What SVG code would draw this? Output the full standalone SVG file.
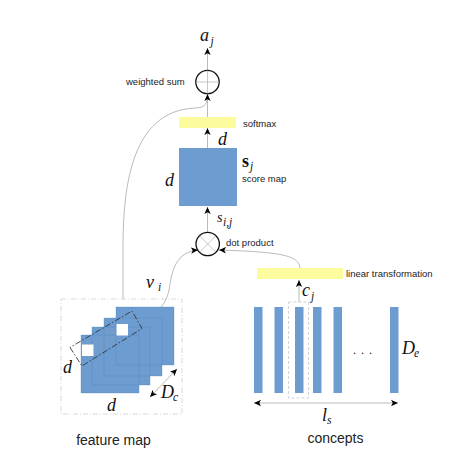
<svg xmlns="http://www.w3.org/2000/svg" width="476" height="476" viewBox="0 0 476 476">
<style>
.blue{fill:#6d9cd0;}
.yel{fill:#fcfc9e;}
.con{fill:none;stroke:#a8a8a8;stroke-width:0.8;}
.lbl{font-family:"Liberation Sans",Arial,sans-serif;font-size:9.5px;fill:#222;}
.big{font-family:"Liberation Sans",Arial,sans-serif;font-size:14px;fill:#222;}
.m{font-family:"Liberation Serif","DejaVu Serif",serif;font-style:italic;font-size:18px;fill:#111;}
.sub{font-family:"Liberation Serif","DejaVu Serif",serif;font-style:italic;font-size:11.5px;fill:#111;}
.op{fill:#fff;stroke:#111;stroke-width:1.3;}
.opl{stroke:#b0b0b0;stroke-width:0.7;}
.lay{fill:#6d9cd0;}
.layo{fill:none;stroke:#4f7fb5;stroke-width:0.5;stroke-opacity:0.6;}
</style>
<defs>
<marker id="arr" viewBox="0 0 10 10" refX="10" refY="5" markerWidth="7" markerHeight="7" orient="auto-start-reverse" markerUnits="userSpaceOnUse">
<path d="M0,0.5 L10,5 L0,9.5 L2.5,5 z" fill="#000"/>
</marker>
</defs>
<rect width="476" height="476" fill="#fff"/>

<g id="connectors">
<line class="con" x1="207.5" y1="70" x2="207.5" y2="48" marker-end="url(#arr)"/>
<line class="con" x1="207.5" y1="117" x2="207.5" y2="94"/>
<path class="con" d="M123,299 L123,250 C123,195 128,110 196,108 C205,107.5 207.5,104 207.5,94" marker-end="url(#arr)"/>
<line class="con" x1="207.5" y1="148" x2="207.5" y2="128" marker-end="url(#arr)"/>
<line class="con" x1="207.5" y1="232" x2="207.5" y2="207" marker-end="url(#arr)"/>
<path class="con" d="M137,320 C155,318 166,305 169,290 C172,270 176,252 198,250" marker-end="url(#arr)"/>
<path class="con" d="M300,268 C299,255 280,252 219,250" marker-end="url(#arr)"/>
<line class="con" x1="299" y1="302" x2="299" y2="280" marker-end="url(#arr)"/>
<line class="con" x1="254" y1="403" x2="398" y2="403" marker-start="url(#arr)" marker-end="url(#arr)"/>
<line class="con" x1="177" y1="369" x2="150" y2="397" stroke="#333" marker-start="url(#arr)" marker-end="url(#arr)"/>
</g>

<g id="weighted-sum">
<circle class="op" cx="207.5" cy="82" r="11.7"/>
<line class="opl" x1="196" y1="82" x2="219" y2="82"/>
<line class="opl" x1="207.5" y1="70.5" x2="207.5" y2="93.5"/>
<text class="lbl" x="126" y="85">weighted sum</text>
<text class="m" x="200" y="41">a</text><text class="sub" x="210.5" y="45">j</text>
</g>

<g id="softmax">
<rect class="yel" x="179" y="117" width="57" height="11"/>
<text class="lbl" x="243" y="127">softmax</text>
<text class="m" x="218" y="145">d</text>
</g>

<g id="score-map">
<rect class="blue" x="179" y="148" width="58" height="58"/>
<text class="m" x="165" y="186">d</text>
<text x="242" y="167" font-family="Liberation Serif,DejaVu Serif,serif" font-weight="bold" font-size="18px" fill="#111">s</text><text class="sub" x="250" y="170">j</text>
<text class="lbl" x="242" y="182">score map</text>
<text x="217" y="222" font-family="Liberation Serif,DejaVu Serif,serif" font-style="italic" font-size="14px" fill="#111">s</text><text class="sub" x="223" y="226" font-size="10px">i,j</text>
</g>

<g id="dot-product">
<circle class="op" cx="207.7" cy="244" r="11.7"/>
<line class="opl" x1="199.5" y1="235.8" x2="215.9" y2="252.2"/>
<line class="opl" x1="215.9" y1="235.8" x2="199.5" y2="252.2"/>
<text class="lbl" x="226" y="246">dot product</text>
</g>

<g id="linear-transformation">
<rect class="yel" x="257" y="268" width="86" height="11"/>
<text class="lbl" x="346" y="277">linear transformation</text>
<text class="m" x="302" y="296">c</text><text class="sub" x="311" y="300">j</text>
</g>

<g id="concepts">
<rect class="blue" x="254" y="307" width="8.5" height="86"/>
<rect class="blue" x="274.5" y="307" width="8.5" height="86"/>
<rect class="blue" x="295" y="307" width="8.5" height="86"/>
<rect class="blue" x="313" y="307" width="8.5" height="86"/>
<rect class="blue" x="333.5" y="307" width="8.5" height="86"/>
<rect class="blue" x="390" y="307" width="8.5" height="86"/>
<rect x="288.5" y="302" width="20" height="96" fill="none" stroke="#c8c8c8" stroke-width="0.8" stroke-dasharray="3,2"/>
<text x="353" y="354" font-family="Liberation Serif,serif" font-size="12px" fill="#111" letter-spacing="5">...</text>
<text class="m" x="402" y="354">D</text><text class="sub" x="414" y="357">e</text>
<text class="m" x="322" y="421">l</text><text class="sub" x="327" y="424">s</text>
<text class="big" x="335.5" y="443" text-anchor="middle">concepts</text>
</g>

<g id="feature-map">
<rect x="61" y="299" width="121" height="115" fill="none" stroke="#cfcfcf" stroke-width="0.8" stroke-dasharray="5,2,1,2"/>
<rect class="lay" x="116" y="307" width="58" height="58"/>
<rect class="lay" x="104" y="318" width="58" height="58"/>
<rect class="lay" x="92" y="327" width="58" height="58"/>
<rect class="lay" x="81" y="335" width="58" height="58"/>
<rect class="layo" x="116" y="307" width="58" height="58"/>
<rect class="layo" x="104" y="318" width="58" height="58"/>
<rect class="layo" x="92" y="327" width="58" height="58"/>
<rect class="layo" x="81" y="335" width="58" height="58"/>
<rect x="82" y="344.5" width="11.5" height="11.5" fill="#fff"/>
<rect x="116.5" y="324" width="11.5" height="11.5" fill="#fff"/>
<g stroke="#9a9a9a" stroke-width="0.6" stroke-dasharray="1,1">
<line x1="93.5" y1="345" x2="116.5" y2="331"/>
<line x1="93.5" y1="349.5" x2="116.5" y2="335.5"/>
<line x1="93.5" y1="354" x2="117" y2="340"/>
<line x1="88" y1="344.5" x2="116.5" y2="327"/>
</g>
<polygon points="70,347.5 82,366 142,328.5 132,311" fill="none" stroke="#333" stroke-width="0.9" stroke-dasharray="6,2,1.5,2"/>
<text class="m" x="63" y="373">d</text>
<text class="m" x="107" y="411">d</text>
<text class="m" x="161" y="398">D</text><text class="sub" x="173" y="401">c</text>
<text class="m" x="146" y="288">v</text><text class="sub" x="158" y="291">i</text>
<text class="big" x="113.5" y="445" text-anchor="middle">feature map</text>
</g>
</svg>
